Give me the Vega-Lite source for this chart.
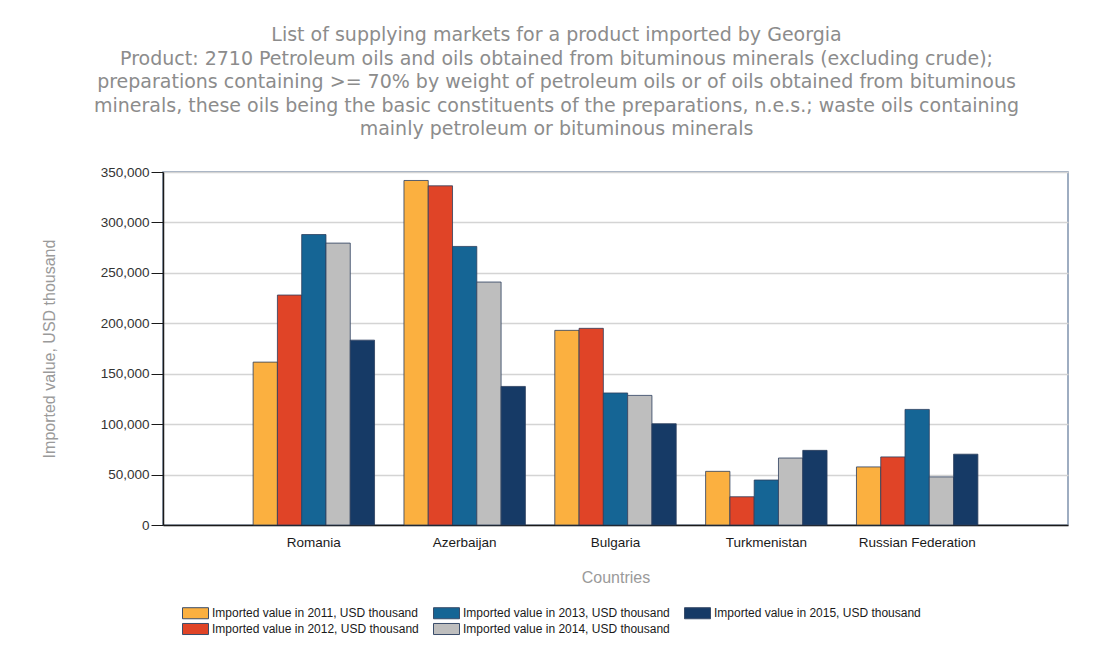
{
  "$schema": "https://vega.github.io/schema/vega-lite/v6.json",
  "autosize": "none",
  "width": 905,
  "height": 353,
  "padding": {"left": 163, "top": 172, "right": 29, "bottom": 129},
  "background": "white",
  "title": {
    "text": [
      "List of supplying markets for a product imported by Georgia",
      "Product: 2710 Petroleum oils and oils obtained from bituminous minerals (excluding crude);",
      "preparations containing >= 70% by weight of petroleum oils or of oils obtained from bituminous",
      "minerals, these oils being the basic constituents of the preparations, n.e.s.; waste oils containing",
      "mainly petroleum or bituminous minerals"
    ],
    "font": "DejaVu Sans",
    "fontSize": 19,
    "fontWeight": "normal",
    "color": "#8c8c8c",
    "lineHeight": 23.5,
    "anchor": "middle",
    "dx": -59,
    "offset": 26
  },
  "data": {
    "values": [
      {"country": "Romania", "year": "2011", "value": 161500},
      {"country": "Romania", "year": "2012", "value": 228000},
      {"country": "Romania", "year": "2013", "value": 288000},
      {"country": "Romania", "year": "2014", "value": 279500},
      {"country": "Romania", "year": "2015", "value": 183300},
      {"country": "Azerbaijan", "year": "2011", "value": 341600},
      {"country": "Azerbaijan", "year": "2012", "value": 336300},
      {"country": "Azerbaijan", "year": "2013", "value": 276200},
      {"country": "Azerbaijan", "year": "2014", "value": 240900},
      {"country": "Azerbaijan", "year": "2015", "value": 137400},
      {"country": "Bulgaria", "year": "2011", "value": 193000},
      {"country": "Bulgaria", "year": "2012", "value": 195000},
      {"country": "Bulgaria", "year": "2013", "value": 130900},
      {"country": "Bulgaria", "year": "2014", "value": 128500},
      {"country": "Bulgaria", "year": "2015", "value": 100400},
      {"country": "Turkmenistan", "year": "2011", "value": 53200},
      {"country": "Turkmenistan", "year": "2012", "value": 28000},
      {"country": "Turkmenistan", "year": "2013", "value": 44600},
      {"country": "Turkmenistan", "year": "2014", "value": 66400},
      {"country": "Turkmenistan", "year": "2015", "value": 74000},
      {"country": "Russian Federation", "year": "2011", "value": 57600},
      {"country": "Russian Federation", "year": "2012", "value": 67500},
      {"country": "Russian Federation", "year": "2013", "value": 114600},
      {"country": "Russian Federation", "year": "2014", "value": 47700},
      {"country": "Russian Federation", "year": "2015", "value": 70200}
    ]
  },
  "mark": {"type": "bar", "stroke": "#2c3f5e", "strokeWidth": 1, "strokeOpacity": 0.8},
  "encoding": {
    "x": {
      "field": "country",
      "type": "nominal",
      "sort": ["Romania", "Azerbaijan", "Bulgaria", "Turkmenistan", "Russian Federation"],
      "scale": {"paddingInner": 0.195, "paddingOuter": 0.5975},
      "axis": {
        "title": "Countries",
        "titleFont": "Liberation Sans",
        "titleFontSize": 16,
        "titleFontWeight": "normal",
        "titleColor": "#9a9a9a",
        "titlePadding": 21,
        "labelFont": "Liberation Sans",
        "labelFontSize": 13.5,
        "labelColor": "#1a1a1a",
        "labelAngle": 0,
        "labelPadding": 10,
        "ticks": false,
        "domainColor": "#1a1a1a",
        "domainWidth": 1.5
      }
    },
    "xOffset": {"field": "year", "type": "nominal", "sort": "ascending", "scale": {"paddingInner": 0, "paddingOuter": 0}},
    "y": {
      "field": "value",
      "type": "quantitative",
      "scale": {"domain": [0, 350000], "nice": false},
      "axis": {
        "title": "Imported value, USD thousand",
        "titleFont": "Liberation Sans",
        "titleFontSize": 16,
        "titleFontWeight": "normal",
        "titleColor": "#9a9a9a",
        "titlePadding": 43,
        "labelFont": "Liberation Sans",
        "labelFontSize": 13.5,
        "labelColor": "#333333",
        "labelPadding": 2,
        "labelOverlap": false,
        "values": [0, 50000, 100000, 150000, 200000, 250000, 300000, 350000],
        "format": ",d",
        "tickSize": 12,
        "tickColor": "#1a1a1a",
        "domainColor": "#1a1a1a",
        "domainWidth": 1.5,
        "grid": true,
        "gridColor": "#d4d4d4",
        "gridWidth": 1.5
      }
    },
    "color": {
      "field": "year",
      "type": "nominal",
      "scale": {
        "domain": ["2011", "2013", "2015", "2012", "2014"],
        "range": ["#fbb040", "#156595", "#163a66", "#e04427", "#bebebe"]
      },
      "legend": {
        "title": null,
        "orient": "none",
        "legendX": 19,
        "legendY": 434,
        "columns": 3,
        "direction": "horizontal",
        "labelExpr": "'Imported value in ' + datum.label + ', USD thousand'",
        "labelFont": "Liberation Sans",
        "labelFontSize": 12,
        "labelColor": "#1a1a1a",
        "labelLimit": 400,
        "labelOffset": 16,
        "symbolType": "M-1,-0.85h4v1.7h-4z",
        "symbolSize": 169,
        "symbolStrokeColor": "#3a4d6a",
        "symbolStrokeWidth": 1,
        "symbolOpacity": 1,
        "columnPadding": 12,
        "rowPadding": 0
      }
    }
  },
  "config": {
    "view": {"stroke": "#7f93ad", "strokeWidth": 1.5}
  }
}
